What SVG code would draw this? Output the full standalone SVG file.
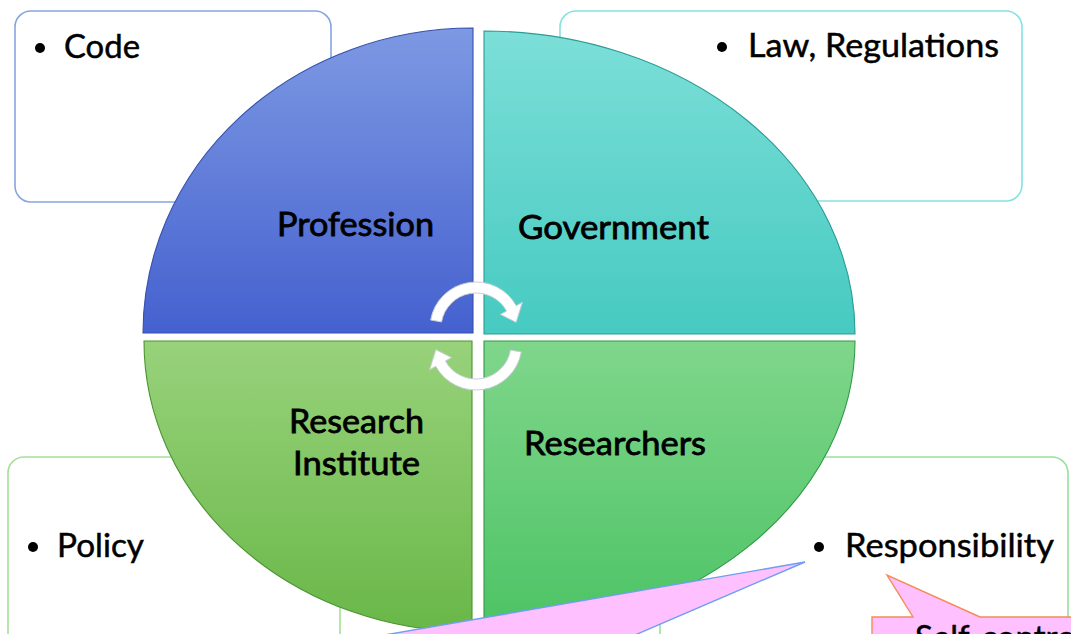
<svg xmlns="http://www.w3.org/2000/svg" xmlns:xlink="http://www.w3.org/1999/xlink" width="1071" height="634" viewBox="0 0 1071 634">
<defs>
<style>
.box{fill:#fff;stroke-width:1.6}
.lbl{font-family:Lato,"Open Sans","Liberation Sans",sans-serif;font-size:33px;fill:#000;stroke:#000;stroke-width:0.5}
.ctr{text-anchor:middle;stroke-width:0.8}
.q{stroke-width:1.1}
.arrow{fill:#fff;stroke:#c9ced8;stroke-width:1}
</style>
<linearGradient id="gTL" x1="0" y1="0" x2="0" y2="1"><stop offset="0" stop-color="#7d99e3"/><stop offset="1" stop-color="#4561cf"/></linearGradient>
<linearGradient id="gTR" x1="0" y1="0" x2="0" y2="1"><stop offset="0" stop-color="#7cdfd8"/><stop offset="1" stop-color="#46cac1"/></linearGradient>
<linearGradient id="gBL" x1="0" y1="0" x2="0" y2="1"><stop offset="0" stop-color="#98d27b"/><stop offset="1" stop-color="#69b748"/></linearGradient>
<linearGradient id="gBR" x1="0" y1="0" x2="0" y2="1"><stop offset="0" stop-color="#80d68b"/><stop offset="1" stop-color="#4bc364"/></linearGradient>
<path id="arr" class="arrow" d="M430.70,320.01 A46,46 0 0 1 516.23,305.70 L522.35,302.31 L516.11,322.36 L500.49,314.43 L506.61,311.03 A35,35 0 0 0 441.53,321.92 Z"/>
</defs>

<g id="box-code">
<rect class="box" x="15" y="11" width="316" height="191" rx="16" stroke="#86a5de"/>
<circle cx="40" cy="48" r="5" fill="#000"/>
<text class="lbl" x="64" y="58" textLength="76" lengthAdjust="spacingAndGlyphs">Code</text>
</g>
<g id="box-law">
<rect class="box" x="560" y="11" width="462" height="190" rx="16" stroke="#86e2e2"/>
<circle cx="722" cy="47" r="5" fill="#000"/>
<text class="lbl" x="748" y="57" textLength="251" lengthAdjust="spacingAndGlyphs">Law, Regulations</text>
</g>
<g id="box-policy">
<rect class="box" x="8" y="457" width="332" height="220" rx="16" stroke="#a6e096"/>
<circle cx="33" cy="547" r="5" fill="#000"/>
<text class="lbl" x="57" y="557" textLength="87" lengthAdjust="spacingAndGlyphs">Policy</text>
</g>
<g id="box-responsibility">
<rect class="box" x="660" y="457" width="408" height="220" rx="16" stroke="#96e29e"/>
<circle cx="819" cy="547" r="5" fill="#000"/>
<text class="lbl" x="845" y="557" textLength="209" lengthAdjust="spacingAndGlyphs">Responsibility</text>
</g>

<g id="profession">
<path class="q" d="M473,333 L143,333 A330,305 0 0 1 473,28 Z" fill="url(#gTL)" stroke="#3651ad"/>
<text class="lbl ctr" x="355.5" y="236" textLength="157" lengthAdjust="spacingAndGlyphs">Profession</text>
</g>
<g id="government">
<path class="q" d="M484,334 L484,31 A371,303 0 0 1 855,334 Z" fill="url(#gTR)" stroke="#2a9c94"/>
<text class="lbl ctr" x="613.5" y="239" textLength="191" lengthAdjust="spacingAndGlyphs">Government</text>
</g>
<g id="research-institute">
<path class="q" d="M472,341 L472,632 A329,291 0 0 1 144,341 Z" fill="url(#gBL)" stroke="#4a9430"/>
<text class="lbl ctr" x="356.5" y="433" textLength="135" lengthAdjust="spacingAndGlyphs">Research</text>
<text class="lbl ctr" x="356.5" y="475" textLength="127" lengthAdjust="spacingAndGlyphs">Institute</text>
</g>
<g id="researchers">
<path class="q" d="M484,341 L855,341 A371,293 0 0 1 484,634 Z" fill="url(#gBR)" stroke="#309a47"/>
<text class="lbl ctr" x="615" y="455" textLength="182" lengthAdjust="spacingAndGlyphs">Researchers</text>
</g>

<g id="connectors">
<use xlink:href="#arr" href="#arr"/>
<use xlink:href="#arr" href="#arr" transform="rotate(180 476 336)"/>
</g>

<g id="callout-1">
<path d="M805,562 L350,641 L621,641 Z" fill="#ffc0ff" stroke="#6e9ff0" stroke-width="1.4"/>
</g>
<g id="callout-2">
<path d="M872,660 L872,617 L913,617 L887,575 L980,617 L1090,617 L1090,660 Z" fill="#ffc0ff" stroke="#f58a55" stroke-width="1.4"/>
<text class="lbl" x="915" y="649">Self-control</text>
</g>
</svg>
